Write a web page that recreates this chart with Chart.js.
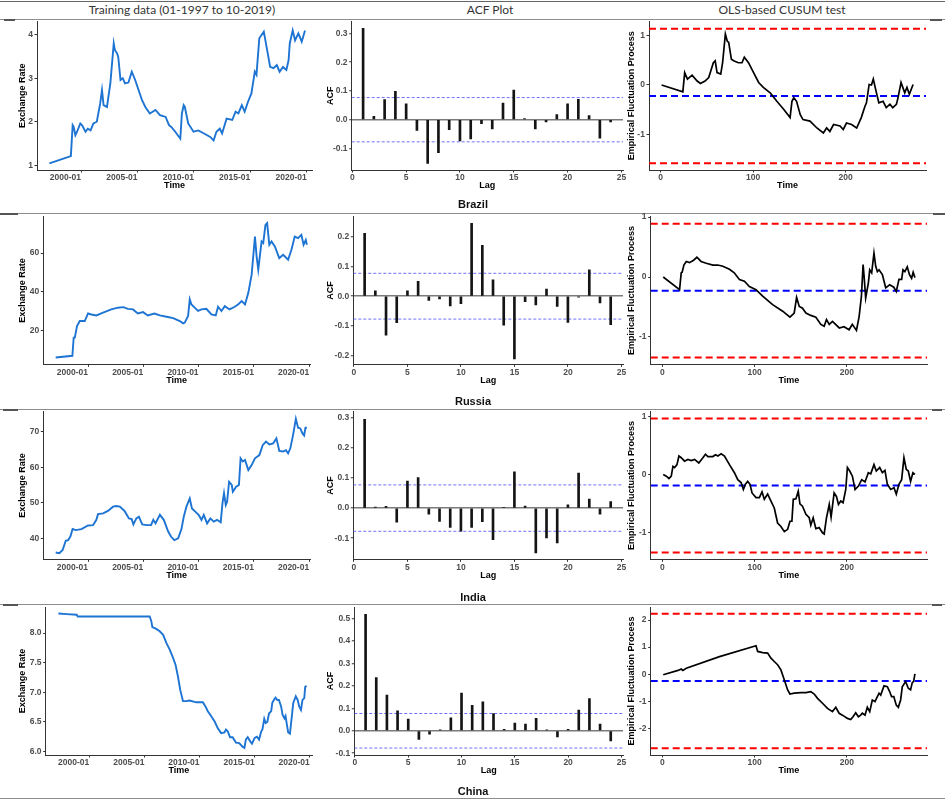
<!DOCTYPE html>
<html>
<head>
<meta charset="utf-8">
<script src="https://cdn.jsdelivr.net/npm/chart.js@4.4.1/dist/chart.umd.min.js"></script>
<style>
  html, body { margin: 0; padding: 0; background: #fff; }
  #fig { position: relative; width: 945px; height: 800px; overflow: hidden; background: #fff; }
  #fig canvas { position: absolute; }
  .rule { position: absolute; left: 0; width: 945px; height: 1px; background: #8c8c8c; }
  .mark { position: absolute; height: 2px; background: #555; }
  .head { position: absolute; top: 2px; line-height: 16px; font-family: Lato, "Open Sans", sans-serif;
          font-size: 12px; color: #333; transform: translateX(-50%); white-space: nowrap; }
  .country { position: absolute; font-family: "Liberation Sans", Arial, Helvetica, sans-serif; font-weight: bold;
             font-size: 11px; color: #111; transform: translate(-50%, -50%); white-space: nowrap; }
</style>
</head>
<body>
<div id="fig">
  <div class="rule" style="top:1px;background:#666"></div>
  <div class="rule" style="top:19px"></div>
  <div class="rule" style="top:213px"></div>
  <div class="rule" style="top:409px"></div>
  <div class="rule" style="top:604px"></div>
  <div class="rule" style="top:798px"></div>
  <div class="mark" style="left:4px;width:11px;top:18.5px"></div>
  <div class="mark" style="left:930px;width:12px;top:19px"></div>
  <div class="mark" style="left:0px;width:18px;top:213px"></div>
  <div class="mark" style="left:933px;width:12px;top:213px"></div>
  <div class="mark" style="left:3px;width:15px;top:409px"></div>
  <div class="mark" style="left:932px;width:10px;top:409px"></div>
  <div class="mark" style="left:3px;width:15px;top:604px"></div>
  <div class="mark" style="left:932px;width:10px;top:604px"></div>
  <div class="head" style="left:182px">Training data (01-1997 to 10-2019)</div>
  <div class="head" style="left:490px">ACF Plot</div>
  <div class="head" style="left:782px">OLS-based CUSUM test</div>
</div>
<script>
// ---------- Monthly exchange rates against the US dollar (decimal years) ----------
const brazilYear = [1997.2,1999.1,1999.26,1999.35,1999.5,1999.65,1999.94,2000.1,2000.4,2000.6,2000.85,2001.1,2001.4,2001.7,2001.86,2002.0,2002.3,2002.6,2002.9,2003.0,2003.2,2003.3,2003.5,2003.7,2003.9,2004.2,2004.5,2004.8,2005.1,2005.4,2005.7,2006.1,2006.6,2007.0,2007.5,2007.8,2008.0,2008.35,2008.8,2008.94,2009.1,2009.2,2009.5,2009.97,2010.4,2010.9,2011.45,2011.75,2012.0,2012.3,2012.5,2012.9,2013.4,2013.7,2013.95,2014.25,2014.5,2014.8,2015.1,2015.4,2015.55,2015.8,2016.2,2016.5,2016.76,2017.05,2017.35,2017.6,2017.9,2018.2,2018.4,2018.5,2018.76,2018.97,2019.26,2019.56,2019.85];
const brazilRate = [1.04,1.21,1.92,1.88,1.69,1.77,1.96,1.92,1.77,1.84,1.80,1.96,2.00,2.42,2.73,2.38,2.34,2.88,3.80,3.65,3.57,3.49,2.96,3.00,2.88,2.90,3.15,2.96,2.73,2.50,2.34,2.19,2.27,2.15,2.11,1.92,1.88,1.77,1.61,2.19,2.38,2.34,1.96,1.77,1.80,1.73,1.65,1.57,1.77,1.84,1.73,2.07,2.04,2.23,2.19,2.38,2.23,2.46,2.65,3.15,3.08,3.92,4.07,3.64,3.26,3.23,3.30,3.15,3.26,3.19,3.42,3.80,4.10,3.87,4.03,3.84,4.10];

const russiaYear = [1997.07,1998.58,1998.7,1998.8,1999.0,1999.25,1999.7,2000.0,2000.3,2000.75,2001.36,2002.1,2002.7,2003.2,2003.6,2004.07,2004.5,2004.98,2005.4,2006.0,2006.5,2007.1,2007.7,2008.3,2008.6,2008.75,2009.05,2009.2,2009.35,2009.65,2009.95,2010.26,2010.7,2011.16,2011.55,2011.76,2012.07,2012.37,2012.8,2013.27,2013.57,2013.9,2014.2,2014.5,2014.8,2015.1,2015.25,2015.4,2015.7,2015.85,2016.05,2016.2,2016.4,2016.6,2016.9,2017.3,2017.65,2018.1,2018.4,2018.7,2019.0,2019.3,2019.5,2019.7,2019.8];
const russiaRate = [5.9,6.8,16.2,16.2,22.2,24.8,24.8,28.7,28.2,27.7,29.1,30.8,31.7,32.0,31.1,30.8,28.7,29.4,27.7,28.7,27.7,27.0,26.3,24.8,23.6,24.0,27.4,36.0,33.4,31.7,30.0,30.8,31.1,28.2,27.7,32.2,30.0,32.5,30.8,32.2,33.4,35.1,33.4,39.4,48.8,68.5,58.3,51.4,66.0,65.2,74.5,75.4,64.3,66.0,63.4,57.4,59.1,56.5,61.7,68.5,67.7,69.4,64.3,66.8,64.3];

const indiaYear = [1997.07,1997.4,1997.7,1997.98,1998.2,1998.4,1998.6,1998.9,1999.4,2000.0,2000.45,2000.75,2000.9,2001.36,2001.8,2002.26,2002.55,2002.87,2003.3,2003.7,2003.95,2004.1,2004.37,2004.6,2004.9,2005.3,2005.7,2005.9,2006.1,2006.5,2006.85,2007.25,2007.5,2007.8,2008.15,2008.45,2008.66,2008.9,2009.2,2009.4,2009.7,2010.0,2010.26,2010.47,2010.77,2011.07,2011.37,2011.67,2012.0,2012.16,2012.3,2012.46,2012.58,2012.76,2013.0,2013.1,2013.4,2013.65,2013.8,2014.0,2014.2,2014.5,2014.8,2015.1,2015.5,2015.8,2016.1,2016.4,2016.75,2017.04,2017.3,2017.65,2017.9,2018.1,2018.3,2018.55,2018.8,2019.0,2019.2,2019.4,2019.55,2019.67,2019.8];
const indiaRate = [36.0,35.8,36.7,39.3,39.5,40.5,42.6,42.3,42.6,43.6,43.7,45.2,46.8,47.0,47.7,48.9,49.1,48.9,47.7,45.6,45.4,43.9,45.6,46.1,43.9,43.7,43.7,45.2,44.2,46.6,45.2,41.9,40.5,39.5,40.0,42.6,46.1,48.9,51.2,48.4,47.5,46.6,45.2,46.6,44.2,45.6,44.7,45.2,44.5,49.8,52.7,49.4,50.3,55.9,55.0,53.1,54.5,55.0,62.5,61.6,62.0,59.2,60.6,62.5,63.4,66.2,67.2,66.4,66.7,68.1,64.6,64.4,64.8,63.9,65.3,69.1,73.6,71.1,70.9,69.5,68.9,71.1,71.1];

const chinaYear = [1997.2,1997.95,1998.86,1998.95,1999.76,2005.48,2005.63,2005.72,2006.08,2006.39,2006.7,2007.0,2007.3,2007.6,2007.83,2008.04,2008.25,2008.5,2008.8,2009.1,2009.7,2010.3,2010.54,2010.75,2011.05,2011.36,2011.66,2011.96,2012.26,2012.4,2012.56,2012.77,2013.0,2013.3,2013.6,2013.9,2014.07,2014.2,2014.37,2014.6,2014.76,2015.0,2015.2,2015.4,2015.6,2015.7,2015.87,2016.0,2016.15,2016.3,2016.5,2016.6,2016.78,2016.9,2017.05,2017.2,2017.4,2017.53,2017.7,2017.8,2017.9,2018.04,2018.2,2018.37,2018.5,2018.73,2018.9,2019.04,2019.2,2019.34,2019.5,2019.58,2019.7];
const chinaRate = [8.33,8.32,8.31,8.28,8.28,8.28,8.20,8.10,8.07,8.03,7.97,7.83,7.72,7.58,7.46,7.27,7.04,6.85,6.85,6.86,6.83,6.83,6.76,6.68,6.60,6.51,6.39,6.31,6.32,6.37,6.34,6.24,6.24,6.15,6.14,6.08,6.06,6.20,6.24,6.17,6.13,6.23,6.25,6.20,6.34,6.37,6.55,6.48,6.50,6.64,6.68,6.82,6.88,6.91,6.87,6.87,6.76,6.62,6.56,6.60,6.48,6.32,6.30,6.59,6.82,6.93,6.87,6.76,6.70,6.87,6.90,7.09,7.11];

// ---------- Autocorrelations of the returns, lags 1..24 ----------
const acfLags = [1,2,3,4,5,6,7,8,9,10,11,12,13,14,15,16,17,18,19,20,21,22,23,24];
const brazilAcf = [0.318,0.012,0.070,0.099,0.055,-0.037,-0.152,-0.115,-0.035,-0.074,-0.067,-0.014,-0.032,0.058,0.103,0.004,-0.032,-0.008,0.018,0.055,0.071,0.014,-0.064,-0.008];
const russiaAcf = [0.211,0.018,-0.131,-0.089,0.018,0.050,-0.014,-0.009,-0.033,-0.025,0.245,0.171,0.055,-0.097,-0.211,-0.018,-0.029,0.024,-0.034,-0.088,-0.003,0.089,-0.023,-0.096];
const indiaAcf = [0.295,0.003,0.006,-0.047,0.090,0.101,-0.020,-0.044,-0.064,-0.077,-0.064,-0.045,-0.105,0.002,0.120,0.007,-0.149,-0.099,-0.116,0.011,0.116,0.030,-0.020,0.022];
const chinaAcf = [0.519,0.237,0.159,0.089,0.052,-0.039,-0.015,0.004,0.058,0.168,0.114,0.129,0.077,0.006,0.034,0.030,0.056,0.004,-0.027,0.007,0.092,0.144,0.030,-0.045];
const acfBand = 0.077;

// ---------- OLS-based CUSUM empirical fluctuation processes ----------
const brazilCusumT = [1,24,26,29,34,39.5,43,48,52,57,59,61,65,67,70,72,73.6,76.5,79,84,88,90.5,95,100.5,106,111,118.5,125.7,133,140,142,144,147,151,154,161.5,169,176,179.5,183,187,194,197.5,201,206.5,212,217,221,222.6,225.5,228,230,233.4,236,240.6,244,248,251,255,256.7,260,264,266.4,269,273];
const brazilCusumV = [0,-0.14,0.25,0.12,0.20,0.08,0.03,0.08,0.15,0.45,0.49,0.25,0.22,0.45,1.03,0.89,0.86,0.52,0.49,0.45,0.45,0.56,0.45,0.25,0.05,-0.05,-0.16,-0.33,-0.49,-0.66,-0.33,-0.26,-0.33,-0.60,-0.70,-0.73,-0.87,-0.97,-0.87,-0.94,-0.80,-0.83,-0.90,-0.77,-0.80,-0.87,-0.66,-0.43,-0.36,0.01,0.00,0.12,-0.16,-0.36,-0.33,-0.46,-0.39,-0.46,-0.39,-0.26,0.05,-0.16,-0.05,-0.19,0.01];

const russiaCusumT = [1,18.7,20.5,21.5,23.4,26,29.5,33.9,37.5,42,47.6,54.8,60.2,65.6,72.8,78,83.6,89,94.4,101.6,108.8,119.6,130.5,138.4,143,145.6,148.5,152,155.7,161,166.5,171.9,175.5,178,181,184.5,191.9,197,202.5,206,210.5,213.4,215.9,217.7,218.8,220.5,223.4,224.9,227,229.5,231.4,233.2,235,238.6,242.2,246.5,251,253.7,256.6,259.5,261,263,265.6,268,270.3,272,273.9];
const russiaCusumV = [0,-0.21,0.07,0.08,0.20,0.26,0.24,0.28,0.33,0.26,0.23,0.20,0.20,0.18,0.13,0.07,-0.04,-0.07,-0.16,-0.21,-0.32,-0.46,-0.57,-0.67,-0.60,-0.34,-0.49,-0.52,-0.60,-0.64,-0.67,-0.79,-0.82,-0.71,-0.79,-0.74,-0.85,-0.83,-0.88,-0.79,-0.89,-0.66,-0.32,0.21,0.01,-0.35,-0.10,0.12,0.07,0.40,0.18,0.09,0.12,0.04,-0.18,-0.13,-0.17,-0.24,-0.04,-0.04,0.12,0.09,0.17,0.04,-0.02,0.08,-0.01];

const indiaCusumT = [1,4.3,7.2,9.7,11.5,13.3,15.9,18,20.5,24.1,27.7,31.4,35,39.6,44,46.8,49.4,54.8,57.7,60.2,63.8,67.4,72.8,78.2,81.8,85.4,87.9,90.1,92.6,95.1,97.3,101.6,105.2,108.1,110.6,114.2,117.8,121.4,125,128.6,132.3,135.9,138.4,140.5,142,144.9,147.4,149.2,152,155.7,159.3,161,163.6,166.5,170,173.7,175.5,178,181,183,186.3,188.8,191,193.5,196,198.9,200.7,203.2,206.1,209,212.6,216.2,219.8,223.4,226,229.5,232,235.7,238.6,241.4,244,247.6,251.2,253.7,256.6,259.5,262,264.5,266.7,269.2,271.7,273.9];
const indiaCusumV = [0,-0.03,-0.07,-0.03,0.14,0.12,0.17,0.32,0.29,0.23,0.26,0.24,0.26,0.20,0.29,0.35,0.31,0.31,0.34,0.32,0.36,0.32,0.17,0.03,-0.09,-0.14,-0.26,-0.17,-0.12,-0.17,-0.32,-0.40,-0.40,-0.30,-0.43,-0.34,-0.46,-0.58,-0.84,-0.90,-0.99,-0.95,-0.81,-0.81,-0.43,-0.42,-0.29,-0.51,-0.55,-0.69,-0.75,-0.88,-0.75,-0.94,-0.92,-1.01,-1.03,-0.75,-0.52,-0.74,-0.32,-0.38,-0.52,-0.46,-0.49,-0.26,0.12,0.06,-0.03,-0.26,-0.20,-0.09,-0.13,0.03,0.01,0.17,0.06,0.12,0.03,0.07,-0.17,-0.26,-0.23,-0.34,-0.17,-0.09,0.29,0.09,0.06,-0.12,0.03,0.00];

const chinaCusumT = [1,17,20.5,22.3,26,62,101.6,103.4,108.8,114.2,117.8,121.4,125,128.6,132.3,135.9,138.4,143,150.3,155.7,161,164.7,168.3,173.7,179.1,184.5,188.1,191.7,195.3,200.7,204.3,206.8,209.7,212.6,215.1,216.9,219.8,222.3,224.9,227.7,230.6,233.2,235,236.8,240.4,244,246.5,248.6,251,253.7,255.9,258.4,260.2,263.8,266.7,269.2,271,272.5,273.9];
const chinaCusumV = [-0.02,0.14,0.19,0.14,0.22,0.65,1.05,0.84,0.80,0.78,0.59,0.47,0.35,0.16,-0.21,-0.58,-0.73,-0.70,-0.68,-0.68,-0.64,-0.73,-0.89,-1.07,-1.26,-1.38,-1.22,-1.44,-1.51,-1.63,-1.67,-1.57,-1.42,-1.57,-1.51,-1.44,-1.51,-1.22,-1.38,-0.95,-1.01,-0.83,-0.70,-0.77,-0.43,-0.46,-0.64,-0.83,-0.83,-1.14,-1.22,-0.95,-0.46,-0.27,-0.52,-0.58,-0.31,-0.27,0.01];

// centre line and 5% boundaries of each fluctuation process
const cusumCentre = [-0.225, -0.228, -0.191, -0.25];
const cusumUpper  = [1.135, 0.889, 0.971, 2.23];
const cusumLower  = [-1.585, -1.344, -1.353, -2.73];

// ---------- axis ticks ----------
const countries   = ['Brazil', 'Russia', 'India', 'China'];
const yearTicks   = [2000, 2005, 2010, 2015, 2020];
const lagTicks    = [0, 5, 10, 15, 20, 25];
const cusumXTicks = [0, 100, 200];
const rateTicks   = [[1, 2, 3, 4], [20, 40, 60], [40, 50, 60, 70], [6.0, 6.5, 7.0, 7.5, 8.0]];
const acfTicks    = [[-0.1, 0, 0.1, 0.2, 0.3], [-0.2, -0.1, 0, 0.1, 0.2], [-0.1, 0, 0.1, 0.2, 0.3], [-0.1, 0, 0.1, 0.2, 0.3, 0.4, 0.5]];
const cusumYTicks = [[-1, 0, 1], [-1, 0, 1], [-1, 0, 1], [-2, -1, 0, 1, 2]];

// ---------- axis ranges ----------
const rateRange  = [[0.89, 4.30], [2.4, 78.9], [34.1, 75.6], [5.94, 8.44]];
const yearRange  = [[1996.1, 2020.47], [1995.95, 2020.08], [1995.95, 2020.08], [1996.05, 2020.2]];
const acfRange   = [[-0.175, 0.341], [-0.229, 0.268], [-0.17, 0.32], [-0.108, 0.552]];
const lagRange   = [-0.06, 25.15];
const cusumYRange = [[-1.72, 1.28], [-1.456, 1.01], [-1.469, 1.087], [-2.98, 2.48]];
const cusumXRange = [-12.6, 287];

const rateYears = [brazilYear, russiaYear, indiaYear, chinaYear];
const rateVals  = [brazilRate, russiaRate, indiaRate, chinaRate];
const acfVals   = [brazilAcf, russiaAcf, indiaAcf, chinaAcf];
const cusumT    = [brazilCusumT, russiaCusumT, indiaCusumT, chinaCusumT];
const cusumV    = [brazilCusumV, russiaCusumV, indiaCusumV, chinaCusumV];

// ---------- layout of the panels (plot-area edges in page pixels) ----------
const rowArea = [
  { top: 21.7,  bottom: 170   },
  { top: 216.5, bottom: 364.3 },
  { top: 411.7, bottom: 559.3 },
  { top: 607,   bottom: 755   }
];
const colLeft   = [[37, 43.3, 43.3, 45.7], [351.7, 353.3, 353.3, 354.3], [649, 650.7, 650.7, 650.7]];
const colRight  = [[312, 310, 310, 312], [623, 623, 623, 623], [926, 927, 927, 927]];
const colCanvas = [{ x: 0, w: 320 }, { x: 320, w: 312 }, { x: 620, w: 325 }];
const yTitleCentre = [23, 330.5, 631.7];
const countryLabelY = [204, 401, 596.7, 791];

const FONT = '"Liberation Sans", Arial, Helvetica, sans-serif';
const fig = document.getElementById('fig');

function linearAxis(o) {
  return {
    type: 'linear',
    min: o.range[0], max: o.range[1],
    offset: false,
    afterBuildTicks: s => { s.ticks = o.ticks.map(v => ({ value: v })); },
    afterFit: o.fit,
    border: { display: true, color: '#333', width: 1 },
    grid: {
      display: true, offset: false,
      drawOnChartArea: !!o.zeroLine,
      color: o.zeroLine ? (c => (c.tick && Math.abs(c.tick.value) < 1e-9 ? '#7a7a7a' : 'rgba(0,0,0,0)')) : 'rgba(0,0,0,0)',
      lineWidth: o.zeroLine ? 1.5 : 1,
      drawTicks: true, tickLength: 2.5, tickColor: '#333', tickWidth: 1
    },
    ticks: {
      autoSkip: false, maxRotation: 0, minRotation: 0,
      padding: o.horizontal ? 0.5 : 1.6,
      align: o.align || 'center',
      color: '#4d4d4d',
      font: { family: FONT, size: 8.5, weight: 'bold' },
      callback: o.fmt
    },
    title: {
      display: true, text: o.title, color: '#000',
      font: { family: FONT, size: 9, weight: 'bold' },
      padding: o.titlePad
    }
  };
}

function panel(col, row, xAxis, yAxis, datasets) {
  const area = { l: colLeft[col][row], r: colRight[col][row], t: rowArea[row].top, b: rowArea[row].bottom };
  const rect = { x: colCanvas[col].x, w: colCanvas[col].w, y: Math.floor(area.t - 12) };
  const xBand = 30;
  rect.h = Math.ceil(area.b + xBand - rect.y);
  const cv = document.createElement('canvas');
  cv.width = rect.w; cv.height = rect.h;
  cv.style.left = rect.x + 'px'; cv.style.top = rect.y + 'px';
  cv.style.width = rect.w + 'px'; cv.style.height = rect.h + 'px';
  fig.appendChild(cv);

  const bottomBand = rect.y + rect.h - area.b;
  xAxis.horizontal = true;
  xAxis.fit = s => { s.height = bottomBand; };
  xAxis.titlePad = { top: 0, bottom: bottomBand - 16 - 5.4 };
  yAxis.fit = s => { s.width = area.l - rect.x; };
  yAxis.titlePad = { top: yTitleCentre[col] - rect.x - 5.4, bottom: 0 };

  new Chart(cv, {
    type: 'line',
    data: { datasets },
    options: {
      responsive: false, animation: false, devicePixelRatio: 1, events: [],
      layout: { padding: { left: 0, bottom: 0, top: area.t - rect.y, right: rect.x + rect.w - area.r } },
      plugins: { legend: { display: false }, tooltip: { enabled: false } },
      scales: { x: linearAxis(xAxis), y: linearAxis(yAxis) }
    }
  });
}

const pts = (xs, ys) => xs.map((x, i) => ({ x, y: ys[i] }));
const flat = (range, y) => [{ x: range[0], y }, { x: range[1], y }];
const line = (data, color, width, dash) => ({
  type: 'line', data, borderColor: color, borderWidth: width, borderDash: dash || [],
  pointRadius: 0, fill: false, tension: 0
});

for (let r = 0; r < 4; r++) {
  // exchange rate series
  panel(0, r,
    { range: yearRange[r], ticks: yearTicks, title: 'Time', align: 'end', fmt: v => v + '-01' },
    { range: rateRange[r], ticks: rateTicks[r], title: 'Exchange Rate',
      fmt: v => (r === 3 ? v.toFixed(1) : String(v)) },
    [line(pts(rateYears[r], rateVals[r]), '#1d74d3', 1.9)]);

  // autocorrelation function
  panel(1, r,
    { range: lagRange, ticks: lagTicks, title: 'Lag', fmt: v => String(v) },
    { range: acfRange[r], ticks: acfTicks[r], title: 'ACF', zeroLine: true, fmt: v => v.toFixed(1) },
    [
      { type: 'bar', data: pts(acfLags, acfVals[r]), backgroundColor: '#141414', borderWidth: 0, barThickness: 2 },
      line(flat(lagRange, acfBand), '#6161ff', 0.9, [3, 2]),
      line(flat(lagRange, -acfBand), '#6161ff', 0.9, [3, 2])
    ]);

  // OLS-based CUSUM process with boundaries
  panel(2, r,
    { range: cusumXRange, ticks: cusumXTicks, title: 'Time', fmt: v => String(v) },
    { range: cusumYRange[r], ticks: cusumYTicks[r], title: 'Empirical Fluctuation Process', fmt: v => String(v) },
    [
      line(pts(cusumT[r], cusumV[r]), '#000', 1.7),
      line(flat(cusumXRange, cusumCentre[r]), '#0000ff', 2, [7, 4]),
      line(flat(cusumXRange, cusumUpper[r]), '#ff0000', 2, [7, 4]),
      line(flat(cusumXRange, cusumLower[r]), '#ff0000', 2, [7, 4])
    ]);

  const lab = document.createElement('div');
  lab.className = 'country';
  lab.style.left = '473px';
  lab.style.top = countryLabelY[r] + 'px';
  lab.textContent = countries[r];
  fig.appendChild(lab);
}
</script>
</body>
</html>
